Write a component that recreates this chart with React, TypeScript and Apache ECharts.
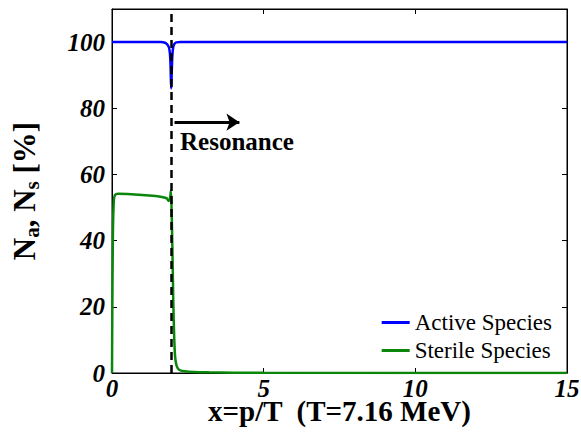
import React, { useEffect, useRef } from "react";
import * as echarts from "echarts";

const activeX = [0, 1.6, 1.75, 1.83, 1.88, 1.91, 1.93, 1.95, 1.97, 1.99, 2.02, 2.06, 2.12, 2.25, 15];
const activeY = [100, 100, 99.8, 99.2, 98.3, 96.5, 93, 86, 91, 96, 98.6, 99.5, 99.9, 100, 100];

const sterileX = [0, 0.01, 0.03, 0.06, 0.1, 0.2, 0.5, 1.0, 1.5, 1.8, 1.87, 1.91, 1.94, 1.96, 1.99, 2.02, 2.05, 2.08, 2.12, 2.17, 2.25, 2.4, 2.7, 3.2, 4.0, 5.0, 15];
const sterileY = [0, 18, 42, 52, 53.8, 54.2, 54.1, 53.8, 53.4, 52.8, 52.0, 52.6, 55.0, 51, 38, 22, 11, 5, 2.5, 1.4, 0.8, 0.5, 0.3, 0.2, 0.1, 0.05, 0];

const resonanceX = 1.95;
const arrowFrom = [2.06, 75.8];
const arrowTo = [4.2, 75.8];
const xTicks = [0, 5, 10, 15];
const yTicks = [0, 20, 40, 60, 80, 100];

const SERIF = "'Liberation Serif', 'DejaVu Serif', serif";

export default function App() {
  const ref = useRef<HTMLDivElement>(null);
  useEffect(() => {
    if (!ref.current) return;
    const chart = echarts.init(ref.current, null, { renderer: "svg" });
    const tickLabel = {
      fontFamily: SERIF,
      fontWeight: "bold" as const,
      fontStyle: "italic" as const,
      fontSize: 25,
      color: "#000",
    };
    const line = { show: true, onZero: false, lineStyle: { color: "#000", width: 1 } };
    const tick = { show: true, inside: true, length: 5, lineStyle: { color: "#000" } };
    chart.setOption({
      animation: false,
      grid: {
        left: 112,
        right: 14,
        top: 9,
        bottom: 65,
        show: true,
        borderColor: "#000",
        borderWidth: 1,
        containLabel: false,
        outerBoundsMode: "none",
      },
      legend: {
        right: 29,
        bottom: 76,
        padding: 0,
        orient: "vertical",
        itemWidth: 28,
        itemHeight: 3,
        itemGap: 5,
        icon: "rect",
        textStyle: { fontFamily: SERIF, fontSize: 23, color: "#000" },
        data: ["Active Species", "Sterile Species"],
      },
      xAxis: [
        {
          type: "value",
          min: 0,
          max: 15,
          interval: 5,
          position: "bottom",
          axisLine: line,
          axisTick: tick,
          axisLabel: {
            ...tickLabel,
            lineHeight: 20,
            margin: 5,
            formatter: (v: number) => (xTicks.includes(v) ? String(v) : ""),
          },
          splitLine: { show: false },
          name: "x=p/T  (T=7.16 MeV)",
          nameLocation: "middle",
          nameGap: 25,
          nameMoveOverlap: false,
          nameTextStyle: { fontFamily: SERIF, fontWeight: "bold", fontSize: 29, lineHeight: 26, color: "#000" },
        },
        {
          type: "value",
          min: 0,
          max: 15,
          interval: 5,
          position: "top",
          axisLine: line,
          axisTick: tick,
          axisLabel: { show: false },
          splitLine: { show: false },
        },
      ],
      yAxis: [
        {
          type: "value",
          min: 0,
          max: 110,
          interval: 20,
          position: "left",
          axisLine: line,
          axisTick: tick,
          axisLabel: {
            ...tickLabel,
            margin: 7,
            showMaxLabel: false,
            formatter: (v: number) => (yTicks.includes(v) ? String(v) : ""),
          },
          splitLine: { show: false },
          name: "{b|N}{s|a}{b|, N}{s|s}{b| [%]}",
          nameLocation: "middle",
          nameGap: 70,
          nameTextStyle: {
            fontFamily: SERIF,
            color: "#000",
            rich: {
              b: { fontFamily: SERIF, fontWeight: "bold", fontSize: 31, color: "#000" },
              s: { fontFamily: SERIF, fontWeight: "bold", fontSize: 21, color: "#000", padding: [14, 0, 0, 0] },
            },
          },
        },
        {
          type: "value",
          min: 0,
          max: 110,
          interval: 20,
          position: "right",
          axisLine: line,
          axisTick: tick,
          axisLabel: { show: false },
          splitLine: { show: false },
        },
      ],
      series: [
        {
          name: "Active Species",
          type: "line",
          data: activeX.map((x, i) => [x, activeY[i]]),
          showSymbol: false,
          smooth: 0.3,
          color: "#0000ff",
          lineStyle: { width: 2.5, color: "#0000ff" },
          z: 3,
        },
        {
          name: "Sterile Species",
          type: "line",
          data: sterileX.map((x, i) => [x, sterileY[i]]),
          showSymbol: false,
          smooth: 0.3,
          color: "#0a870a",
          lineStyle: { width: 2.5, color: "#0a870a" },
          z: 3,
          markLine: {
            silent: true,
            symbol: ["none", "none"],
            label: { show: false },
            lineStyle: { color: "#000", type: [8, 5], width: 2.5 },
            data: [{ xAxis: resonanceX }],
            z: 5,
          },
        },
        {
          name: "arrow",
          type: "line",
          xAxisIndex: 1,
          yAxisIndex: 1,
          data: [],
          markLine: {
            silent: true,
            symbol: ["none", "arrow"],
            symbolSize: [13, 13],
            label: { show: false },
            lineStyle: { color: "#000", type: "solid", width: 3 },
            data: [[{ coord: arrowFrom }, { coord: arrowTo }]],
          },
        },
      ],
      graphic: [
        {
          type: "text",
          left: 180,
          top: 129,
          style: {
            text: "Resonance",
            font: `bold 25px ${SERIF}`,
            fill: "#000",
          },
        },
      ],
    });
    return () => chart.dispose();
  }, []);
  return (
    <div
      ref={ref}
      style={{ position: "absolute", left: 0, top: 0, width: 581, height: 438 }}
    />
  );
}
